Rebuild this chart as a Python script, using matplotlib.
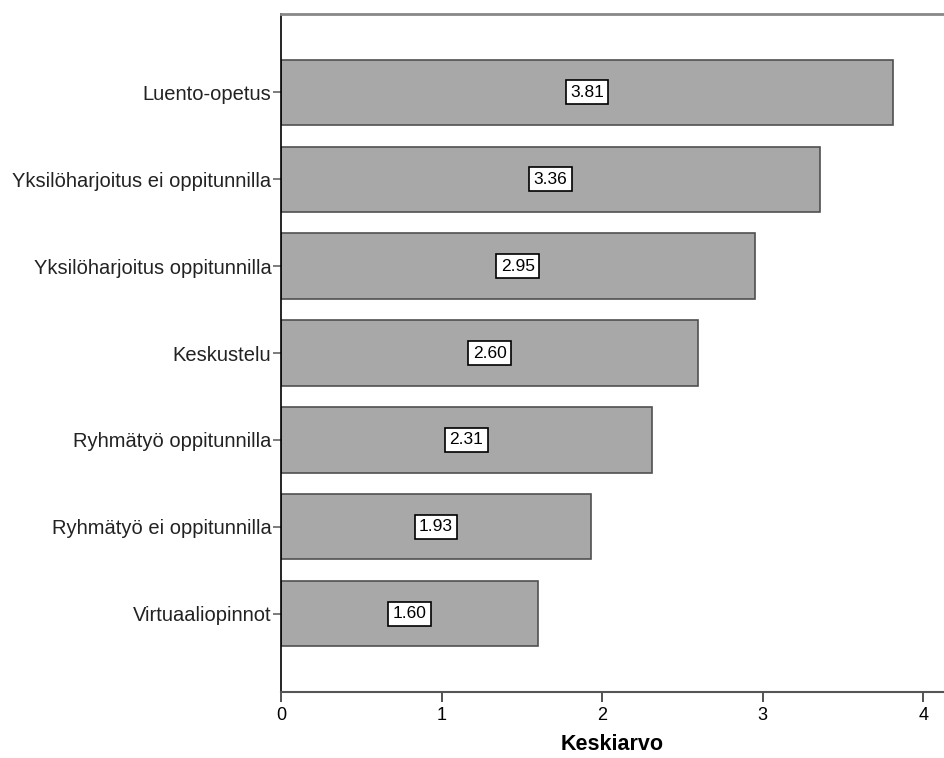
import matplotlib.pyplot as plt
import numpy as np

plt.rcParams['font.family'] = ['Liberation Sans', 'DejaVu Sans']

# mean scores per teaching method
categories = ["Luento-opetus", "Yksilöharjoitus ei oppitunnilla",
              "Yksilöharjoitus oppitunnilla", "Keskustelu",
              "Ryhmätyö oppitunnilla", "Ryhmätyö ei oppitunnilla",
              "Virtuaaliopinnot"]
means = [3.81, 3.36, 2.95, 2.60, 2.31, 1.93, 1.60]
x_ticks = [0, 1, 2, 3, 4]

fig = plt.figure(figsize=(9.44, 7.58), dpi=100)
ax = fig.add_axes([0.2977, 0.0871, 0.7023, 0.8944])

y = np.arange(len(categories))
ax.barh(y, means, height=0.75, color="#a8a8a8", edgecolor="#505050",
        linewidth=1.2, zorder=2)

for yi, m in zip(y, means):
    ax.text(m / 2, yi, f"{m:.2f}", ha="center", va="center", fontsize=12.5,
            bbox=dict(boxstyle="square,pad=0.25", facecolor="white",
                      edgecolor="black", linewidth=1.2), zorder=3)

ax.set_ylim(len(categories) - 1 + 0.9, -0.9)
ax.set_xlim(0, 4.13)
ax.set_yticks(y)
ax.set_yticklabels(categories, fontsize=14.5, color="#222222")
ax.set_xticks(x_ticks)
ax.set_xticklabels([str(t) for t in x_ticks], fontsize=13)

ax.tick_params(axis="y", length=6, width=1.2, color="#666666", pad=1)
ax.tick_params(axis="x", length=7, width=1.2, color="#333333", pad=4)

ax.spines["right"].set_visible(False)
ax.spines["top"].set_color("#888888")
ax.spines["top"].set_linewidth(2)
ax.spines["bottom"].set_color("#555555")
ax.spines["bottom"].set_linewidth(1.5)
ax.spines["left"].set_color("black")
ax.spines["left"].set_linewidth(1.2)

ax.set_xlabel("Keskiarvo", fontsize=15.5, fontweight="bold", labelpad=7)

fig.savefig("out.png", dpi=100)
